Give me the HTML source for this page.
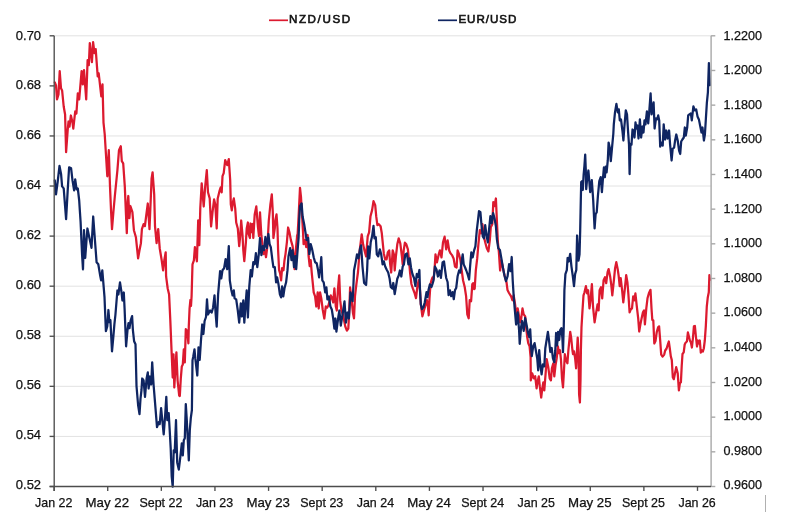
<!DOCTYPE html>
<html><head><meta charset="utf-8"><title>NZD/USD vs EUR/USD</title>
<style>
html,body{margin:0;padding:0;background:#fff;}
body{width:795px;height:512px;overflow:hidden;}
svg{display:block;}
text{font-family:"Liberation Sans",sans-serif;fill:#111;stroke:#111;stroke-width:0.25px;}
.l{font-size:12.5px;text-anchor:end;}
.r{font-size:12.5px;text-anchor:start;}
.b{font-size:12.8px;text-anchor:middle;}
.lg{font-size:11.6px;stroke-width:0.6px;}
</style></head><body>
<svg width="795" height="512" viewBox="0 0 795 512">
<rect width="795" height="512" fill="#fff"/>
<defs><filter id="id" x="0" y="0" width="100%" height="100%" filterUnits="userSpaceOnUse" color-interpolation-filters="sRGB"><feOffset dx="0" dy="0"/></filter></defs>
<g filter="url(#id)">
<line x1="54.2" x2="711.1" y1="35.80" y2="35.80" stroke="#e2e2e2" stroke-width="1"/>
<line x1="54.2" x2="711.1" y1="135.96" y2="135.96" stroke="#e2e2e2" stroke-width="1"/>
<line x1="54.2" x2="711.1" y1="186.03" y2="186.03" stroke="#e2e2e2" stroke-width="1"/>
<line x1="54.2" x2="711.1" y1="236.11" y2="236.11" stroke="#e2e2e2" stroke-width="1"/>
<line x1="54.2" x2="711.1" y1="286.19" y2="286.19" stroke="#e2e2e2" stroke-width="1"/>
<line x1="54.2" x2="711.1" y1="336.27" y2="336.27" stroke="#e2e2e2" stroke-width="1"/>
<line x1="54.2" x2="711.1" y1="386.34" y2="386.34" stroke="#e2e2e2" stroke-width="1"/>
<line x1="54.2" x2="711.1" y1="436.42" y2="436.42" stroke="#e2e2e2" stroke-width="1"/>
<polyline points="54.8,82.3 56.0,85.3 57.0,99.4 58.5,94.4 59.7,71.2 61.0,88.3 62.1,90.4 63.7,106.5 65.1,114.5 66.1,152.2 67.7,130.0 68.5,121.5 69.5,126.6 70.9,115.5 72.5,122.5 73.3,128.6 75.2,111.5 76.4,113.5 77.8,93.4 79.2,99.4 81.6,71.2 82.8,84.3 84.0,70.2 86.2,99.4 87.6,60.2 88.8,65.2 89.8,43.1 91.9,62.2 93.1,42.1 94.5,53.1 95.7,49.1 97.7,76.3 98.7,73.3 101.3,96.4 102.5,84.3 103.5,122.6 104.7,134.0 107.3,176.3 108.8,150.2 110.0,186.4 111.0,210.0 112.0,229.1 113.4,212.0 114.8,196.5 117.4,170.3 119.0,150.2 120.8,146.2 121.8,161.2 123.2,163.3 124.8,186.4 126.0,215.0 126.8,233.2 127.8,201.0 128.3,196.0 129.4,218.1 130.4,206.0 132.4,212.1 133.9,230.2 135.9,237.2 138.1,258.3 139.5,250.2 140.9,243.2 141.9,229.2 143.6,224.1 144.9,226.0 146.3,215.0 147.8,203.5 149.5,229.1 151.6,178.4 152.6,172.3 154.2,194.4 155.0,226.1 156.6,243.2 158.2,229.1 159.7,248.2 161.7,260.3 163.1,270.4 164.3,260.3 165.7,252.3 166.1,276.4 167.7,288.5 169.1,294.5 170.3,320.1 171.7,354.3 172.7,377.5 173.5,354.3 174.3,387.5 176.4,352.3 177.6,380.5 179.2,395.6 179.8,396.0 180.8,378.5 181.8,366.4 182.8,364.4 183.8,349.3 184.8,362.4 185.8,329.2 187.2,331.2 188.4,343.3 188.8,326.2 189.6,308.0 190.4,300.0 191.0,306.0 191.6,296.0 192.5,264.3 193.9,260.3 194.9,247.2 196.9,261.3 198.2,220.3 199.3,245.2 200.3,208.0 201.7,183.3 203.7,206.5 205.2,186.3 206.8,170.2 208.0,192.3 209.7,198.4 211.1,226.5 212.5,212.4 214.1,199.4 215.3,204.4 216.7,228.5 217.7,198.4 219.7,190.3 220.7,187.3 221.7,192.3 222.5,176.2 223.7,173.2 225.2,160.1 227.2,165.2 228.8,159.1 230.2,180.2 230.8,204.4 231.8,210.4 232.8,202.4 233.8,198.4 235.2,208.4 236.2,222.5 237.8,228.5 239.2,246.1 240.2,236.0 241.2,220.5 242.5,235.0 243.3,250.1 244.3,261.2 245.9,242.1 246.7,228.5 247.9,222.5 248.6,234.0 249.9,238.0 250.5,223.5 251.9,232.0 252.6,224.0 253.3,238.0 254.7,214.4 256.3,206.4 257.9,226.5 259.0,236.0 260.0,212.4 261.4,236.0 262.0,240.1 263.4,254.1 264.8,250.1 266.0,257.2 267.4,246.1 268.8,220.5 270.4,204.4 271.8,194.3 272.8,212.4 273.4,238.0 274.8,228.0 275.3,220.5 276.5,214.4 277.5,228.5 278.1,250.1 279.1,270.2 280.1,273.3 281.1,280.3 282.1,268.2 283.5,270.2 284.5,260.2 285.5,254.1 286.9,242.1 288.1,227.5 289.5,232.6 290.9,240.1 292.6,246.1 293.6,255.2 294.6,269.2 296.0,248.1 297.2,235.0 297.6,234.6 298.6,216.5 300.0,187.9 301.0,197.0 302.0,215.0 303.0,232.0 303.6,244.1 305.0,240.1 306.2,247.1 307.6,235.0 308.6,256.2 309.7,266.2 310.7,260.2 311.7,272.3 312.7,282.3 313.7,292.4 315.1,296.4 316.3,306.5 317.7,292.4 318.7,308.5 320.1,292.4 321.3,298.4 322.7,309.5 324.3,318.5 325.8,306.5 327.2,307.5 328.4,305.5 329.8,300.4 330.8,295.4 331.8,297.4 333.2,302.4 334.4,288.3 335.8,306.5 336.8,310.5 338.0,288.3 339.2,275.3 340.2,300.4 341.4,310.5 342.9,314.5 344.1,320.5 345.3,326.6 346.9,330.6 348.3,328.6 349.3,310.5 350.1,287.3 351.6,300.2 353.0,313.3 354.0,318.3 355.0,296.2 356.4,284.1 358.0,272.0 359.7,250.4 361.7,234.3 363.1,244.3 364.5,250.4 366.1,256.4 367.7,236.3 369.1,232.3 370.5,216.2 372.1,210.1 373.5,201.1 375.2,205.1 376.2,216.2 377.4,225.2 378.8,224.2 380.6,226.2 381.8,233.3 382.8,243.3 383.8,253.4 385.2,259.4 386.6,259.4 387.8,252.4 389.2,250.4 390.2,264.4 391.2,272.5 392.7,250.4 393.9,254.4 394.7,270.5 395.9,256.4 397.3,244.3 398.7,238.3 400.3,243.3 401.9,256.4 402.7,264.4 403.7,250.4 404.9,242.7 406.3,244.3 407.9,249.4 409.0,260.4 410.0,272.0 411.4,284.0 412.8,288.4 414.4,292.5 416.0,298.2 417.4,286.1 418.8,280.1 420.0,290.1 420.8,304.2 422.4,316.3 424.0,310.2 425.5,305.2 426.9,300.2 427.9,306.2 428.7,315.3 429.5,298.2 430.5,284.0 431.5,280.1 432.5,277.5 433.5,279.5 434.5,270.5 435.5,254.4 436.9,262.4 438.5,255.4 439.9,250.4 441.5,257.4 443.0,242.3 444.6,236.7 446.2,249.4 447.6,240.3 449.2,250.4 450.6,253.4 452.2,255.4 453.6,258.4 455.0,266.5 456.6,267.5 457.6,250.4 459.1,254.4 460.3,259.4 461.7,270.5 463.1,280.5 464.7,287.0 466.1,296.2 467.3,314.3 468.7,318.3 469.7,300.2 471.1,301.2 472.3,284.1 473.1,283.1 474.1,289.1 474.7,288.6 475.8,270.5 477.2,258.4 478.4,244.3 479.8,230.2 481.2,233.3 482.4,224.2 483.8,236.3 485.2,242.3 486.8,248.3 488.4,251.4 489.8,240.3 490.8,227.2 492.3,224.2 493.3,202.1 494.5,206.1 495.9,198.5 496.9,221.2 497.9,242.3 498.9,252.4 500.1,270.5 501.3,260.4 502.5,265.5 503.9,272.5 505.3,278.5 506.5,282.1 507.5,290.1 509.0,293.0 511.1,296.3 512.5,300.3 513.7,295.3 515.1,304.3 516.5,316.4 517.7,308.4 519.1,316.4 520.1,322.4 521.1,319.4 522.5,308.4 523.7,314.4 525.2,316.4 526.2,328.0 527.2,337.0 528.2,343.0 529.6,346.4 530.6,357.2 530.8,380.4 532.2,373.3 533.8,378.4 535.2,376.3 536.6,388.4 537.8,380.4 538.8,376.3 539.8,386.4 541.2,397.5 542.3,388.4 543.3,382.4 544.3,390.4 545.7,372.3 546.7,359.2 548.3,367.3 549.7,378.4 550.9,380.4 551.9,368.3 553.3,363.3 554.3,376.3 555.5,365.3 556.7,358.2 557.9,346.4 559.0,353.2 560.0,350.2 561.0,360.2 562.0,378.4 563.0,387.4 564.0,370.3 564.8,354.2 566.0,360.2 567.4,363.3 568.4,350.0 569.4,340.1 570.2,331.8 571.2,338.0 572.4,350.0 573.0,354.2 574.0,351.4 575.1,358.0 576.1,368.3 577.1,348.2 577.7,337.6 578.5,352.0 578.8,370.3 579.1,394.4 579.9,402.5 580.5,380.4 580.9,350.2 581.5,327.0 582.5,310.4 583.5,295.3 584.5,292.3 585.9,286.2 587.1,293.3 588.1,290.2 589.5,308.4 590.5,300.3 591.9,284.2 593.0,306.3 594.6,322.4 596.2,312.4 597.6,304.3 598.6,310.4 599.6,290.2 601.0,287.2 602.2,298.3 603.6,280.2 605.0,277.2 606.2,283.2 607.6,272.1 608.6,269.1 610.1,276.2 611.3,285.2 612.3,295.3 613.7,282.2 615.1,268.1 616.3,262.1 617.7,269.1 618.7,276.2 619.7,286.2 620.7,278.2 622.1,290.2 623.3,302.3 624.7,290.2 626.2,275.2 627.4,282.2 628.4,294.3 629.6,312.4 630.8,309.4 632.0,308.4 633.2,296.3 634.4,300.3 635.4,293.3 636.8,306.3 638.2,318.4 639.2,331.5 640.4,324.4 641.6,318.4 642.9,312.4 644.1,310.4 644.9,324.4 646.3,308.4 647.5,298.3 648.9,293.3 650.5,289.8 651.5,308.4 652.3,320.0 653.3,320.4 654.3,343.5 655.5,341.0 656.7,332.4 658.1,327.4 659.1,326.4 660.2,340.5 661.2,354.6 662.6,356.6 664.2,354.6 665.2,350.5 666.6,348.5 667.8,344.5 668.8,341.5 669.8,348.5 670.8,356.3 671.8,360.1 672.8,377.2 673.8,379.2 675.2,372.2 676.2,367.2 677.7,373.2 678.9,390.3 679.9,383.3 680.9,382.3 681.7,366.2 682.5,354.0 683.7,352.4 684.7,344.5 685.7,342.5 686.9,341.5 687.9,332.4 688.9,336.5 689.9,340.5 690.9,342.5 691.9,347.5 692.9,338.5 693.9,326.4 694.9,326.0 695.9,336.5 697.0,346.5 698.0,340.5 699.0,343.5 699.8,340.5 700.8,352.6 701.8,350.5 702.8,351.6 703.8,348.5 704.8,340.5 705.8,326.4 706.8,306.3 707.8,297.2 708.8,292.2 709.4,275.1 710.0,280.0" fill="none" stroke="#dc1a2f" stroke-width="2.25" stroke-linejoin="round" stroke-linecap="round"/>
<polyline points="54.8,180.4 56.0,194.4 57.6,182.4 59.5,165.9 61.1,174.3 62.1,186.4 63.7,188.4 66.1,219.1 67.7,190.4 69.1,167.3 71.1,168.3 72.5,180.4 74.1,190.4 75.2,179.4 76.6,189.4 77.8,188.4 79.2,200.5 79.8,210.0 80.6,222.0 81.4,240.0 82.1,255.0 83.0,269.4 84.0,230.2 85.2,258.0 87.4,228.5 89.2,237.0 91.5,247.8 93.2,216.5 94.7,237.0 96.6,262.3 98.3,264.3 100.3,276.4 101.1,280.4 102.3,270.4 103.3,282.4 104.5,297.0 105.9,331.2 107.3,326.2 108.4,310.0 109.4,322.1 110.4,320.1 112.0,351.3 113.4,336.2 114.4,324.1 115.4,315.0 117.4,290.5 118.4,294.5 120.0,282.4 121.4,291.5 122.4,300.5 123.8,292.5 124.6,309.0 126.1,346.3 127.5,330.2 128.5,323.1 129.5,328.2 130.5,321.1 132.1,316.1 132.9,330.2 134.1,341.2 135.5,344.3 136.5,386.0 138.1,405.0 139.5,414.1 140.5,398.6 141.5,390.0 142.2,378.5 143.6,380.5 145.0,396.8 146.6,378.5 147.8,372.4 148.6,388.5 150.0,376.5 151.2,384.5 152.2,362.4 153.6,385.0 155.0,402.1 157.0,427.2 158.7,422.2 159.7,424.2 161.1,408.1 162.3,420.2 163.7,434.3 165.1,416.2 166.3,396.8 167.3,420.2 168.7,413.1 169.7,430.2 170.7,448.4 171.7,476.5 172.7,486.6 173.7,450.4 174.7,452.4 176.0,420.2 177.2,462.4 178.8,469.5 180.4,456.4 181.8,443.3 182.8,455.4 183.8,440.3 184.8,438.3 185.8,404.1 186.8,420.2 187.8,440.3 188.8,460.4 189.8,430.2 190.8,418.2 191.9,410.0 192.5,360.4 193.3,356.3 194.5,349.3 195.3,358.4 197.3,375.5 198.5,347.3 199.7,360.0 201.0,340.0 202.2,324.5 203.4,334.0 204.6,321.0 206.0,317.0 207.0,299.4 208.0,314.5 210.1,310.5 211.7,312.5 213.1,307.5 214.5,295.4 215.7,314.5 216.7,326.6 218.1,294.4 220.1,271.2 221.3,278.3 222.5,270.2 224.1,268.2 225.6,259.2 227.2,269.2 228.8,246.1 229.8,280.3 231.2,289.4 232.6,295.4 233.8,290.4 234.6,298.4 236.2,299.4 237.8,310.5 239.2,322.6 240.8,303.4 241.9,316.5 243.3,300.4 244.3,322.6 245.9,300.4 246.7,290.4 247.9,317.5 249.3,286.3 250.7,270.2 251.9,276.3 253.3,262.2 254.7,264.2 255.9,253.1 257.3,267.2 258.8,254.1 260.0,238.0 261.4,255.2 262.8,246.1 264.0,250.1 265.4,237.0 266.8,248.1 268.4,234.0 269.6,244.1 270.8,247.1 272.4,260.2 273.4,267.2 274.8,267.2 276.1,282.3 277.1,277.3 278.5,284.3 279.9,294.4 281.1,297.4 282.1,286.3 283.3,296.4 284.5,288.3 286.1,282.3 287.5,270.2 288.5,256.2 290.1,248.1 291.5,260.2 292.6,250.1 294.0,267.2 295.2,256.2 296.2,269.2 297.6,250.1 298.6,238.0 299.2,220.5 300.0,206.4 301.6,203.4 302.6,216.5 304.2,224.5 305.4,232.0 306.6,240.0 308.2,238.0 309.3,254.1 310.7,244.1 312.1,249.1 313.7,257.2 315.1,262.2 316.7,263.2 318.1,270.2 319.1,277.3 320.3,268.2 321.3,257.2 322.3,280.3 323.7,282.3 325.2,292.4 326.4,287.3 327.4,299.4 328.8,296.4 330.4,306.5 331.8,309.5 333.2,318.5 334.4,328.6 335.4,318.5 336.4,331.6 338.4,316.5 339.4,310.5 340.8,325.6 341.9,318.5 343.3,309.5 344.5,301.4 345.9,322.6 347.5,312.5 348.9,318.5 350.5,292.4 351.6,297.0 352.6,301.2 353.3,288.0 354.0,270.5 355.6,262.4 357.0,254.4 358.5,258.4 360.1,248.3 361.1,245.3 362.5,266.5 364.1,283.0 366.1,285.0 367.1,270.5 368.1,246.3 369.3,258.4 370.7,242.3 372.1,236.3 373.5,225.8 374.5,238.3 375.8,237.3 376.8,254.4 378.2,256.4 379.8,249.4 381.2,254.4 382.6,264.4 383.8,261.4 385.2,266.5 386.6,269.5 388.2,272.5 389.6,278.5 390.8,287.0 392.3,288.6 393.3,283.0 394.7,294.1 395.9,287.0 397.3,278.8 398.7,275.5 399.9,270.5 401.3,276.5 402.7,266.5 403.9,264.4 405.3,254.4 406.9,253.4 408.4,264.4 409.8,258.4 411.0,267.5 412.4,274.0 414.0,278.0 415.4,286.0 416.8,274.0 418.0,277.0 419.4,270.0 420.0,290.1 420.8,304.2 422.0,309.2 423.4,307.2 424.8,302.2 426.5,292.1 427.5,297.2 428.5,290.1 429.9,284.3 431.5,287.0 432.5,284.0 433.5,280.5 434.9,266.5 436.5,269.5 437.9,276.5 439.5,270.5 440.9,277.8 442.6,262.4 444.0,261.4 445.0,269.5 446.2,278.0 447.6,282.0 448.6,295.2 450.0,290.4 451.2,296.2 452.6,292.1 453.8,299.2 455.0,290.1 456.2,288.0 457.6,276.3 459.1,270.5 460.3,272.5 461.7,260.4 462.7,254.4 463.7,264.4 465.1,267.5 466.3,270.5 467.7,274.5 469.1,279.5 470.1,266.5 471.3,252.4 472.7,257.4 474.1,250.4 475.4,246.3 476.8,230.2 478.0,220.2 479.0,211.1 480.4,212.1 481.4,224.2 482.8,236.3 484.0,238.3 485.2,225.2 486.4,234.3 487.8,242.3 489.2,228.2 490.4,216.2 491.7,223.2 493.1,213.1 494.5,218.2 495.9,226.2 496.9,239.3 498.3,248.3 499.9,250.0 501.3,258.0 503.0,268.1 504.4,275.2 506.0,281.2 507.6,276.2 509.1,264.1 510.5,271.1 511.7,257.0 512.7,280.2 513.7,296.3 514.7,308.4 516.1,324.5 517.7,312.4 519.1,330.5 519.7,343.8 521.1,327.0 522.1,321.0 523.7,330.8 525.2,318.0 526.6,325.0 527.8,332.0 529.2,337.0 530.2,329.3 531.2,348.4 531.8,356.2 533.2,346.2 534.6,343.1 535.8,350.2 537.2,358.2 538.2,370.3 539.2,350.2 540.2,363.3 541.6,374.3 542.9,364.3 544.3,366.3 545.3,348.2 546.7,339.5 547.9,331.8 549.1,341.0 550.3,352.0 551.7,348.0 552.9,358.2 554.3,362.3 555.3,350.2 556.1,333.0 557.1,345.5 558.1,331.8 559.2,340.0 560.2,330.0 561.4,328.2 562.4,338.3 563.0,352.2 563.8,325.0 564.4,290.2 565.4,274.1 566.8,270.1 567.6,258.0 568.7,261.5 570.2,253.8 571.4,266.1 572.8,276.2 574.0,286.2 575.1,274.1 576.3,270.0 577.1,235.5 578.5,260.6 579.5,254.6 580.2,230.4 580.8,200.2 581.2,182.1 582.2,181.1 582.8,190.0 583.6,175.1 584.4,166.0 585.2,154.6 585.8,170.0 586.2,189.2 587.2,178.1 588.4,170.5 589.2,180.1 590.2,192.2 591.8,180.1 593.2,200.2 594.6,228.4 595.6,214.3 596.7,212.3 597.9,196.2 599.3,181.1 600.7,177.1 601.9,192.2 602.9,179.1 603.9,167.5 604.9,177.1 605.6,166.7 606.6,172.3 607.8,160.2 608.6,142.6 609.8,148.1 610.8,161.2 611.8,150.1 613.3,134.0 613.8,124.4 615.0,112.4 616.4,103.9 617.8,112.4 618.8,109.4 619.8,120.4 621.0,119.4 622.4,130.5 623.4,140.5 624.4,126.5 625.8,110.4 627.0,114.4 628.0,130.5 629.0,144.6 629.6,174.1 630.5,144.0 631.5,144.6 632.5,129.5 633.5,130.5 634.5,137.5 635.5,122.4 636.5,128.5 637.5,125.5 638.5,138.5 639.9,119.4 641.1,137.5 642.5,126.5 643.5,132.5 644.5,120.4 645.5,124.4 646.9,111.4 648.2,123.4 649.2,112.4 650.6,93.3 651.6,114.4 652.6,108.4 653.6,102.3 654.6,128.5 656.0,118.4 657.2,119.4 658.2,115.4 659.2,120.4 660.2,146.6 661.6,142.6 662.7,145.6 663.7,124.4 665.1,139.5 666.3,130.5 667.7,138.5 669.1,130.5 670.1,144.6 671.6,160.5 672.7,148.6 674.1,147.6 675.1,140.5 676.3,134.5 677.7,140.5 679.1,150.6 680.2,154.0 681.2,141.5 682.4,139.5 683.8,137.5 684.8,127.5 685.8,135.5 687.2,127.5 688.2,115.4 689.4,114.4 690.8,113.4 691.8,120.4 693.4,106.3 694.8,110.4 696.2,109.4 697.5,116.4 698.9,119.4 700.3,126.5 701.5,132.5 702.5,127.5 703.9,140.5 704.9,134.5 705.9,118.4 706.9,102.3 707.9,92.3 708.9,63.1 709.9,85.2" fill="none" stroke="#0f2562" stroke-width="2.25" stroke-linejoin="round" stroke-linecap="round"/>
<line x1="711.1" x2="711.1" y1="35.8" y2="486.5" stroke="#a8a8a8" stroke-width="1.4"/>
<line x1="711.1" x2="715.3000000000001" y1="35.80" y2="35.80" stroke="#a8a8a8" stroke-width="1.4"/>
<text class="r" x="723.6" y="39.70" textLength="38.5" lengthAdjust="spacingAndGlyphs">1.2200</text>
<line x1="711.1" x2="715.3000000000001" y1="70.47" y2="70.47" stroke="#a8a8a8" stroke-width="1.4"/>
<text class="r" x="723.6" y="74.29" textLength="38.5" lengthAdjust="spacingAndGlyphs">1.2000</text>
<line x1="711.1" x2="715.3000000000001" y1="105.14" y2="105.14" stroke="#a8a8a8" stroke-width="1.4"/>
<text class="r" x="723.6" y="108.88" textLength="38.5" lengthAdjust="spacingAndGlyphs">1.1800</text>
<line x1="711.1" x2="715.3000000000001" y1="139.81" y2="139.81" stroke="#a8a8a8" stroke-width="1.4"/>
<text class="r" x="723.6" y="143.48" textLength="38.5" lengthAdjust="spacingAndGlyphs">1.1600</text>
<line x1="711.1" x2="715.3000000000001" y1="174.48" y2="174.48" stroke="#a8a8a8" stroke-width="1.4"/>
<text class="r" x="723.6" y="178.07" textLength="38.5" lengthAdjust="spacingAndGlyphs">1.1400</text>
<line x1="711.1" x2="715.3000000000001" y1="209.15" y2="209.15" stroke="#a8a8a8" stroke-width="1.4"/>
<text class="r" x="723.6" y="212.66" textLength="38.5" lengthAdjust="spacingAndGlyphs">1.1200</text>
<line x1="711.1" x2="715.3000000000001" y1="243.82" y2="243.82" stroke="#a8a8a8" stroke-width="1.4"/>
<text class="r" x="723.6" y="247.25" textLength="38.5" lengthAdjust="spacingAndGlyphs">1.1000</text>
<line x1="711.1" x2="715.3000000000001" y1="278.48" y2="278.48" stroke="#a8a8a8" stroke-width="1.4"/>
<text class="r" x="723.6" y="281.85" textLength="38.5" lengthAdjust="spacingAndGlyphs">1.0800</text>
<line x1="711.1" x2="715.3000000000001" y1="313.15" y2="313.15" stroke="#a8a8a8" stroke-width="1.4"/>
<text class="r" x="723.6" y="316.44" textLength="38.5" lengthAdjust="spacingAndGlyphs">1.0600</text>
<line x1="711.1" x2="715.3000000000001" y1="347.82" y2="347.82" stroke="#a8a8a8" stroke-width="1.4"/>
<text class="r" x="723.6" y="351.03" textLength="38.5" lengthAdjust="spacingAndGlyphs">1.0400</text>
<line x1="711.1" x2="715.3000000000001" y1="382.49" y2="382.49" stroke="#a8a8a8" stroke-width="1.4"/>
<text class="r" x="723.6" y="385.62" textLength="38.5" lengthAdjust="spacingAndGlyphs">1.0200</text>
<line x1="711.1" x2="715.3000000000001" y1="417.16" y2="417.16" stroke="#a8a8a8" stroke-width="1.4"/>
<text class="r" x="723.6" y="420.22" textLength="38.5" lengthAdjust="spacingAndGlyphs">1.0000</text>
<line x1="711.1" x2="715.3000000000001" y1="451.83" y2="451.83" stroke="#a8a8a8" stroke-width="1.4"/>
<text class="r" x="723.6" y="454.81" textLength="38.5" lengthAdjust="spacingAndGlyphs">0.9800</text>
<line x1="711.1" x2="715.3000000000001" y1="486.50" y2="486.50" stroke="#a8a8a8" stroke-width="1.4"/>
<text class="r" x="723.6" y="489.40" textLength="38.5" lengthAdjust="spacingAndGlyphs">0.9600</text>
<line x1="54.2" x2="54.2" y1="35.8" y2="490.9" stroke="#4d4d4d" stroke-width="1.35"/>
<line x1="49.6" x2="54.2" y1="35.80" y2="35.80" stroke="#4d4d4d" stroke-width="1.35"/>
<text class="l" x="41.1" y="39.50" textLength="25.3" lengthAdjust="spacingAndGlyphs">0.70</text>
<line x1="49.6" x2="54.2" y1="85.88" y2="85.88" stroke="#4d4d4d" stroke-width="1.35"/>
<text class="l" x="41.1" y="89.49" textLength="25.3" lengthAdjust="spacingAndGlyphs">0.68</text>
<line x1="49.6" x2="54.2" y1="135.96" y2="135.96" stroke="#4d4d4d" stroke-width="1.35"/>
<text class="l" x="41.1" y="139.48" textLength="25.3" lengthAdjust="spacingAndGlyphs">0.66</text>
<line x1="49.6" x2="54.2" y1="186.03" y2="186.03" stroke="#4d4d4d" stroke-width="1.35"/>
<text class="l" x="41.1" y="189.47" textLength="25.3" lengthAdjust="spacingAndGlyphs">0.64</text>
<line x1="49.6" x2="54.2" y1="236.11" y2="236.11" stroke="#4d4d4d" stroke-width="1.35"/>
<text class="l" x="41.1" y="239.46" textLength="25.3" lengthAdjust="spacingAndGlyphs">0.62</text>
<line x1="49.6" x2="54.2" y1="286.19" y2="286.19" stroke="#4d4d4d" stroke-width="1.35"/>
<text class="l" x="41.1" y="289.44" textLength="25.3" lengthAdjust="spacingAndGlyphs">0.60</text>
<line x1="49.6" x2="54.2" y1="336.27" y2="336.27" stroke="#4d4d4d" stroke-width="1.35"/>
<text class="l" x="41.1" y="339.43" textLength="25.3" lengthAdjust="spacingAndGlyphs">0.58</text>
<line x1="49.6" x2="54.2" y1="386.34" y2="386.34" stroke="#4d4d4d" stroke-width="1.35"/>
<text class="l" x="41.1" y="389.42" textLength="25.3" lengthAdjust="spacingAndGlyphs">0.56</text>
<line x1="49.6" x2="54.2" y1="436.42" y2="436.42" stroke="#4d4d4d" stroke-width="1.35"/>
<text class="l" x="41.1" y="439.41" textLength="25.3" lengthAdjust="spacingAndGlyphs">0.54</text>
<line x1="49.6" x2="54.2" y1="486.50" y2="486.50" stroke="#4d4d4d" stroke-width="1.35"/>
<text class="l" x="41.1" y="489.40" textLength="25.3" lengthAdjust="spacingAndGlyphs">0.52</text>
<line x1="49.6" x2="711.1" y1="486.5" y2="486.5" stroke="#4d4d4d" stroke-width="1.35"/>
<line x1="54.10" x2="54.10" y1="486.5" y2="490.9" stroke="#4d4d4d" stroke-width="1.35"/>
<text class="b" x="53.70" y="506.8" textLength="37.3" lengthAdjust="spacingAndGlyphs">Jan 22</text>
<line x1="107.72" x2="107.72" y1="486.5" y2="490.9" stroke="#4d4d4d" stroke-width="1.35"/>
<text class="b" x="107.32" y="506.8" textLength="43.5" lengthAdjust="spacingAndGlyphs">May 22</text>
<line x1="161.33" x2="161.33" y1="486.5" y2="490.9" stroke="#4d4d4d" stroke-width="1.35"/>
<text class="b" x="160.93" y="506.8" textLength="43.0" lengthAdjust="spacingAndGlyphs">Sept 22</text>
<line x1="214.95" x2="214.95" y1="486.5" y2="490.9" stroke="#4d4d4d" stroke-width="1.35"/>
<text class="b" x="214.55" y="506.8" textLength="37.3" lengthAdjust="spacingAndGlyphs">Jan 23</text>
<line x1="268.57" x2="268.57" y1="486.5" y2="490.9" stroke="#4d4d4d" stroke-width="1.35"/>
<text class="b" x="268.17" y="506.8" textLength="43.5" lengthAdjust="spacingAndGlyphs">May 23</text>
<line x1="322.18" x2="322.18" y1="486.5" y2="490.9" stroke="#4d4d4d" stroke-width="1.35"/>
<text class="b" x="321.78" y="506.8" textLength="43.0" lengthAdjust="spacingAndGlyphs">Sept 23</text>
<line x1="375.80" x2="375.80" y1="486.5" y2="490.9" stroke="#4d4d4d" stroke-width="1.35"/>
<text class="b" x="375.40" y="506.8" textLength="37.3" lengthAdjust="spacingAndGlyphs">Jan 24</text>
<line x1="429.42" x2="429.42" y1="486.5" y2="490.9" stroke="#4d4d4d" stroke-width="1.35"/>
<text class="b" x="429.02" y="506.8" textLength="43.5" lengthAdjust="spacingAndGlyphs">May 24</text>
<line x1="483.03" x2="483.03" y1="486.5" y2="490.9" stroke="#4d4d4d" stroke-width="1.35"/>
<text class="b" x="482.63" y="506.8" textLength="43.0" lengthAdjust="spacingAndGlyphs">Sept 24</text>
<line x1="536.65" x2="536.65" y1="486.5" y2="490.9" stroke="#4d4d4d" stroke-width="1.35"/>
<text class="b" x="536.25" y="506.8" textLength="37.3" lengthAdjust="spacingAndGlyphs">Jan 25</text>
<line x1="590.27" x2="590.27" y1="486.5" y2="490.9" stroke="#4d4d4d" stroke-width="1.35"/>
<text class="b" x="589.87" y="506.8" textLength="43.5" lengthAdjust="spacingAndGlyphs">May 25</text>
<line x1="643.88" x2="643.88" y1="486.5" y2="490.9" stroke="#4d4d4d" stroke-width="1.35"/>
<text class="b" x="643.48" y="506.8" textLength="43.0" lengthAdjust="spacingAndGlyphs">Sept 25</text>
<line x1="697.50" x2="697.50" y1="486.5" y2="490.9" stroke="#4d4d4d" stroke-width="1.35"/>
<text class="b" x="697.10" y="506.8" textLength="37.3" lengthAdjust="spacingAndGlyphs">Jan 26</text>
<line x1="269" x2="288" y1="20.3" y2="20.3" stroke="#dc1a2f" stroke-width="1.7"/>
<text class="lg" x="288.9" y="22.7" textLength="61.2" lengthAdjust="spacing">NZD/USD</text>
<line x1="438" x2="457" y1="20.3" y2="20.3" stroke="#0f2562" stroke-width="1.7"/>
<text class="lg" x="458.4" y="22.7" textLength="58" lengthAdjust="spacing">EUR/USD</text>
<line x1="765.5" x2="765.5" y1="495" y2="512" stroke="#b0b0b0" stroke-width="1"/>
</g></svg></body></html>
